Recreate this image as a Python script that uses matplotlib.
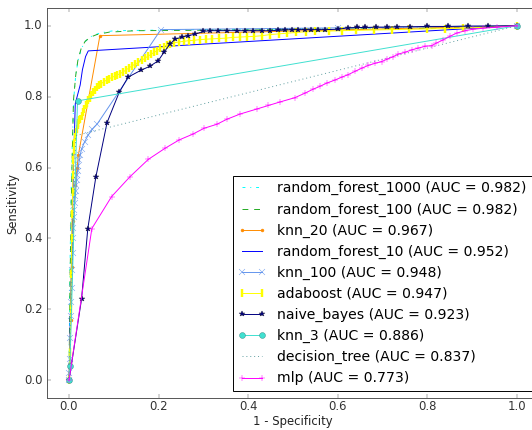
import matplotlib
matplotlib.use("Agg")
import matplotlib.pyplot as plt

# ROC curves (fpr, tpr)
rf1000_fpr = [0, 0.002, 0.005, 0.008, 0.011, 0.015, 0.02, 0.028, 0.038, 0.05, 0.07, 0.1, 0.3, 0.6, 0.8, 1.0]
rf1000_tpr = [0, 0.30, 0.55, 0.70, 0.80, 0.86, 0.90, 0.937, 0.958, 0.970, 0.980, 0.986, 0.989, 0.992, 0.995, 1.0]

rf100_fpr = [0, 0.002, 0.005, 0.008, 0.01, 0.015, 0.02, 0.027, 0.036, 0.048, 0.062, 0.09, 0.15, 0.5, 0.8, 1.0]
rf100_tpr = [0, 0.25, 0.50, 0.68, 0.79, 0.86, 0.904, 0.935, 0.956, 0.968, 0.975, 0.982, 0.986, 0.989, 0.993, 1.0]

knn20_fpr = [0, 0.002, 0.004, 0.007, 0.01, 0.014, 0.018, 0.021, 0.069, 1.0]
knn20_tpr = [0, 0.05, 0.17, 0.32, 0.45, 0.55, 0.60, 0.636, 0.972, 1.0]

rf10_fpr = [0, 0.005, 0.01, 0.014, 0.025, 0.03, 0.037, 0.043, 1.0]
rf10_tpr = [0, 0.30, 0.60, 0.78, 0.833, 0.876, 0.913, 0.929, 1.0]

knn100_fpr = [0, 0.001, 0.002, 0.003, 0.004, 0.005, 0.006, 0.007, 0.008, 0.009, 0.010, 0.011, 0.012,
              0.013, 0.014, 0.015, 0.016, 0.017, 0.018, 0.019, 0.021, 0.023, 0.025, 0.028, 0.035,
              0.043, 0.052, 0.063, 0.205, 0.6, 1.0]
knn100_tpr = [0, 0.02, 0.06, 0.12, 0.18, 0.22, 0.26, 0.31, 0.36, 0.40, 0.43, 0.46, 0.48,
              0.50, 0.52, 0.535, 0.55, 0.565, 0.58, 0.59, 0.605, 0.62, 0.635, 0.652, 0.673,
              0.692, 0.708, 0.723, 0.989, 0.994, 1.0]

ada_fpr = [0, 0.002, 0.004, 0.005, 0.006, 0.007, 0.008, 0.009, 0.010, 0.011, 0.012, 0.013, 0.015,
           0.017, 0.019, 0.021, 0.023, 0.025, 0.028, 0.031, 0.034, 0.037, 0.040, 0.043, 0.046,
           0.050, 0.054, 0.058, 0.062, 0.067, 0.072, 0.078, 0.084, 0.090, 0.096, 0.102, 0.108,
           0.114, 0.120, 0.127, 0.134, 0.141, 0.148, 0.155, 0.162, 0.169, 0.176, 0.183, 0.190,
           0.197, 0.204, 0.211, 0.218, 0.226, 0.235, 0.245, 0.256, 0.268, 0.280, 0.293, 0.306,
           0.320, 0.335, 0.350, 0.365, 0.381, 0.397, 0.414, 0.431, 0.449, 0.468, 0.487, 0.507,
           0.528, 0.55, 0.58, 0.61, 0.64, 0.68, 0.72, 0.76, 0.80, 0.84, 0.88, 1.0]
ada_tpr = [0, 0.08, 0.20, 0.30, 0.40, 0.47, 0.53, 0.58, 0.62, 0.65, 0.67, 0.685, 0.70,
           0.71, 0.72, 0.727, 0.733, 0.738, 0.745, 0.757, 0.766, 0.775, 0.783, 0.79, 0.797,
           0.806, 0.813, 0.82, 0.826, 0.832, 0.837, 0.842, 0.847, 0.851, 0.854, 0.858, 0.861,
           0.865, 0.869, 0.875, 0.881, 0.887, 0.892, 0.897, 0.902, 0.908, 0.914, 0.919, 0.925,
           0.93, 0.936, 0.941, 0.945, 0.949, 0.952, 0.954, 0.956, 0.958, 0.959, 0.961, 0.962,
           0.963, 0.964, 0.965, 0.967, 0.968, 0.969, 0.97, 0.972, 0.975, 0.977, 0.979, 0.981,
           0.983, 0.984, 0.985, 0.986, 0.987, 0.988, 0.989, 0.99, 0.991, 0.992, 0.993, 1.0]

nb_fpr = [0, 0.028, 0.042, 0.06, 0.085, 0.112, 0.132, 0.16, 0.181, 0.199, 0.212, 0.225, 0.237,
          0.252, 0.266, 0.281, 0.3, 0.315, 0.333, 0.353, 0.375, 0.393, 0.411, 0.431, 0.449,
          0.467, 0.482, 0.497, 0.512, 0.527, 0.541, 0.556, 0.571, 0.6, 0.623, 0.643, 0.661,
          0.685, 0.71, 0.733, 0.762, 0.799, 0.845, 0.89, 0.935, 1.0]
nb_tpr = [0, 0.229, 0.428, 0.574, 0.727, 0.812, 0.855, 0.874, 0.886, 0.901, 0.925, 0.948, 0.962,
          0.968, 0.972, 0.976, 0.984, 0.986, 0.986, 0.986, 0.986, 0.986, 0.986, 0.986, 0.986,
          0.987, 0.988, 0.989, 0.989, 0.989, 0.989, 0.989, 0.989, 0.99, 0.994, 0.995, 0.995,
          0.996, 0.996, 0.997, 0.997, 0.998, 0.998, 0.999, 0.999, 1.0]

knn3_fpr = [0, 0.002, 0.019, 1.0]
knn3_tpr = [0, 0.04, 0.788, 1.0]

dt_fpr = [0, 0.015, 1.0]
dt_tpr = [0, 0.69, 1.0]

mlp_fpr = [0, 0.051, 0.095, 0.136, 0.177, 0.214, 0.246, 0.276, 0.302, 0.33, 0.352, 0.382, 0.419,
           0.445, 0.471, 0.504, 0.527, 0.545, 0.56, 0.575, 0.594, 0.609, 0.623, 0.638, 0.653,
           0.668, 0.683, 0.698, 0.709, 0.724, 0.735, 0.75, 0.765, 0.78, 0.795, 0.81, 0.82,
           0.835, 0.85, 0.865, 0.884, 0.902, 0.925, 0.955, 1.0]
mlp_tpr = [0, 0.428, 0.518, 0.574, 0.623, 0.654, 0.678, 0.694, 0.711, 0.722, 0.736, 0.751, 0.765,
           0.775, 0.785, 0.797, 0.81, 0.821, 0.829, 0.838, 0.847, 0.855, 0.862, 0.871, 0.88,
           0.888, 0.894, 0.899, 0.905, 0.913, 0.92, 0.925, 0.932, 0.937, 0.942, 0.944, 0.951,
           0.96, 0.97, 0.979, 0.986, 0.99, 0.993, 0.996, 1.0]

names = ["random_forest_1000", "random_forest_100", "knn_20", "random_forest_10", "knn_100",
         "adaboost", "naive_bayes", "knn_3", "decision_tree", "mlp"]
aucs = [0.982, 0.982, 0.967, 0.952, 0.948, 0.947, 0.923, 0.886, 0.837, 0.773]


def create_plot():
    plt.style.use("classic")
    fig = plt.figure(figsize=(7.6, 430 / 70), dpi=70, facecolor="white")
    ax = fig.add_axes([46.6 / 532, 32 / 430, 492.8 / 532, 390 / 430])

    curves = [
        (rf1000_fpr, rf1000_tpr, dict(color="cyan", linestyle="-.")),
        (rf100_fpr, rf100_tpr, dict(color="#22aa22", linestyle="--")),
        (knn20_fpr, knn20_tpr, dict(color="darkorange", marker=".")),
        (rf10_fpr, rf10_tpr, dict(color="blue")),
        (knn100_fpr, knn100_tpr, dict(color="cornflowerblue", marker="x")),
        (ada_fpr, ada_tpr, dict(color="yellow", marker="|", markersize=8, markeredgewidth=2.5)),
        (nb_fpr, nb_tpr, dict(color="navy", marker="*", markeredgecolor="#1a1a40")),
        (knn3_fpr, knn3_tpr, dict(color="turquoise", marker="o", markeredgecolor="#3a8f8a")),
        (dt_fpr, dt_tpr, dict(color="cadetblue", linestyle=":")),
        (mlp_fpr, mlp_tpr, dict(color="magenta", marker="+")),
    ]

    for (fpr, tpr, style), name, auc in zip(curves, names, aucs):
        ax.plot(fpr, tpr, linewidth=1.0, label="%s (AUC = %.3f)" % (name, auc), **style)

    ax.set_xlim(-0.05, 1.05)
    ax.set_ylim(-0.05, 1.05)
    ax.set_xticks([0.0, 0.2, 0.4, 0.6, 0.8, 1.0])
    ax.set_yticks([0.0, 0.2, 0.4, 0.6, 0.8, 1.0])
    ax.set_xlabel("1 - Specificity", color="#222222", labelpad=2)
    ax.set_ylabel("Sensitivity", color="#222222")
    ax.tick_params(labelcolor="#333333", color="#555555")
    ax.tick_params(axis="x", pad=2)
    for sp in ax.spines.values():
        sp.set_color("#555555")

    ax.legend(loc="lower right")
    fig.savefig("out.png", dpi=70, facecolor="white")
    plt.close(fig)


if __name__ == "__main__":
    create_plot()
